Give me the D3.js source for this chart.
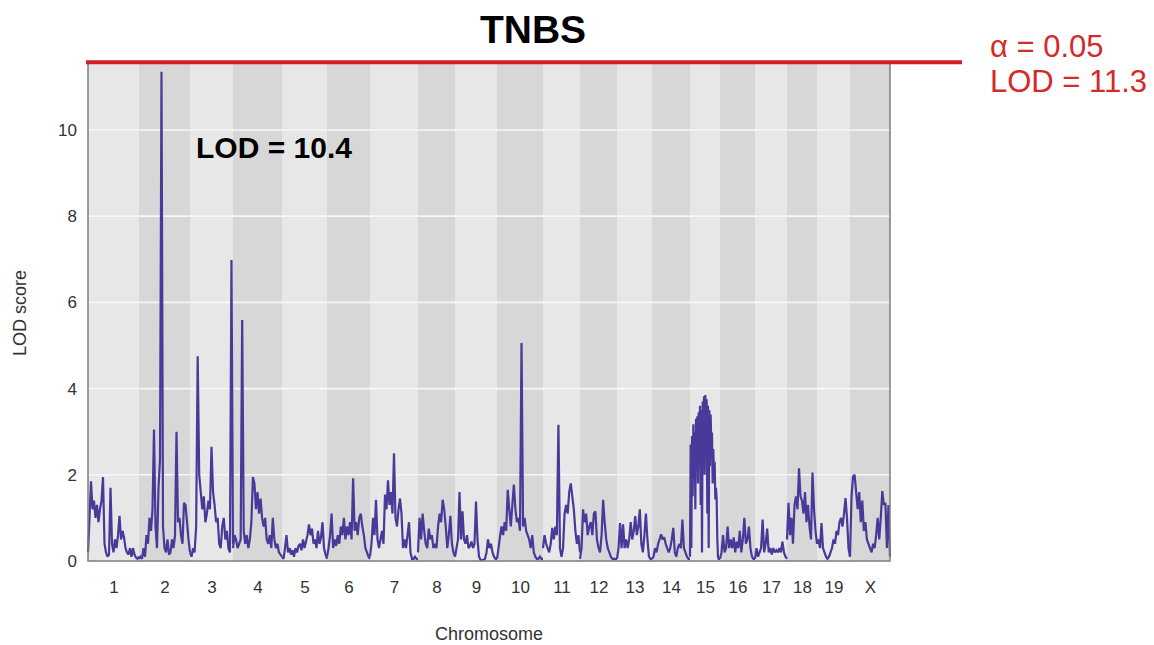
<!DOCTYPE html>
<html>
<head>
<meta charset="utf-8">
<script src="https://cdn.jsdelivr.net/npm/d3@7"></script>
<style>
  body { margin: 0; background: #fff; }
  svg text { font-family: Arial, "Liberation Sans", sans-serif; }
</style>
</head>
<body>
<div id="chart"></div>
<script>
// chromosome names and genetic lengths (cM)
let chromosomes = ["1","2","3","4","5","6","7","8","9","10","11","12","13","14","15","16","17","18","19","X"];
let chrLengths = [102,102,86,98,90,86,96,74,84,92,74,74,70,76,60,70,64,60,66,80];

// LOD profile, evenly spaced markers along each chromosome
let lod1 = [0.2,1.0,1.85,1.2,1.4,1.0,1.3,0.9,1.2,1.4,1.95,0.4,0.2,0.1,0.15,1.7,0.4,0.2,0.5,0.3,0.6,1.05,0.5,0.7,0.55,0.3,0.2,0.15,0.3,0.1,0.3,0.15,0.08,0.05,0.1];
let lod2 = [0.05,0.1,0.05,0.3,0.1,0.6,0.4,1.0,0.7,1.2,3.05,0.8,0.3,1.7,2.35,11.35,0.8,0.3,0.2,0.5,0.15,0.2,0.5,0.3,0.6,3.0,0.9,1.0,0.6,0.4,1.35,1.3,0.9,0.5,0.2];
let lod3 = [0.2,0.1,0.3,0.2,0.8,4.75,2.0,1.6,1.2,1.5,0.9,1.1,1.4,1.2,2.65,1.6,1.3,0.9,1.0,0.4,0.3,0.8,1.0,0.5,0.7,0.3,0.2,6.98,0.4];
let lod4 = [0.3,0.6,0.5,0.3,0.4,0.5,5.59,0.7,0.4,0.6,0.3,0.5,0.9,1.95,1.8,1.2,1.6,1.1,1.45,1.0,0.8,1.0,0.5,0.4,0.6,0.3,1.0,0.5,0.3,0.4,0.2,0.15,0.1];
let lod5 = [0.1,0.05,0.3,0.6,0.2,0.3,0.15,0.25,0.1,0.3,0.2,0.35,0.4,0.25,0.5,0.3,0.45,0.6,0.85,0.6,0.75,0.4,0.5,0.3,0.7,0.4,0.55,0.9,0.3,0.15,0.05];
let lod6 = [0.1,0.3,0.6,1.1,0.3,0.5,0.35,0.6,0.4,0.8,0.6,1.0,0.5,0.8,0.6,0.9,0.5,1.92,0.7,0.9,0.6,1.0,1.1,0.8,0.6,0.3,0.2,0.1,0.05];
let lod7 = [0.1,0.4,1.0,0.6,1.42,0.5,0.3,0.5,0.7,0.4,1.54,1.2,1.87,1.3,1.6,1.1,2.5,1.0,0.8,1.2,1.45,1.1,0.3,0.5,0.3,0.6,0.9,0.2,0.05,0.05,0.1,0.05,0.05];
let lod8 = [0.2,1.0,0.5,1.1,0.7,0.4,0.3,0.75,0.5,0.6,0.3,0.4,0.3,0.8,1.1,0.9,1.42,1.2,0.8,0.3,0.6,1.05,0.4,0.2,0.1];
let lod9 = [0.1,0.3,0.5,1.6,0.5,1.15,0.5,0.4,0.6,0.3,0.35,0.45,0.3,0.4,1.38,0.5,0.1,0.03,0.02,0.03,0.05,0.2,0.5,0.3,0.4,0.2,0.1,0.05,0.05];
let lod10 = [0.05,0.3,0.58,0.8,0.6,0.9,0.7,1.65,1.2,0.8,1.3,1.77,1.2,0.9,1.0,0.7,5.06,0.8,1.0,0.7,0.6,0.5,0.3,0.6,0.2,0.1,0.05,0.05,0.1,0.05,0.05];
let lod11 = [0.3,0.6,0.4,0.3,0.2,0.4,0.77,0.5,0.8,0.6,3.16,0.3,0.1,0.3,1.1,1.3,1.1,1.6,1.8,1.5,1.2,0.7,0.4,0.6,0.2];
let lod12 = [0.05,0.3,1.2,0.9,1.1,0.6,0.8,0.9,0.6,1.1,1.15,0.5,0.3,0.2,0.6,1.42,0.9,0.5,0.3,0.2,0.1,0.05,0.05,0.05,0.05];
let lod13 = [0.05,0.3,0.88,0.3,0.85,0.3,0.5,0.3,0.5,0.9,0.5,0.7,1.04,0.6,0.8,1.2,0.4,0.2,0.6,1.1,0.5,0.1,0.05,0.05];
let lod14 = [0.05,0.1,0.3,0.2,0.4,0.5,0.62,0.5,0.55,0.4,0.3,0.2,0.3,0.5,0.77,0.2,0.1,0.3,0.4,0.3,0.96,0.3,0.2,0.1,0.05,0.05];
let lod15 = [0.1,2.7,0.3,2.9,1.5,3.17,2.0,3.0,1.2,3.3,2.2,3.36,1.8,3.45,2.5,3.6,1.3,3.5,0.2,3.7,2.4,3.82,2.0,3.85,2.6,3.75,1.1,3.6,0.3,3.5,2.2,3.4,2.6,2.98,1.8,2.6,2.0,2.3,1.43,1.7,1.43,0.5,0.1,0.05,0.05,0.05];
let lod16 = [0.05,0.2,0.6,0.2,0.3,0.8,0.3,0.5,0.3,0.55,0.2,0.45,0.3,0.7,0.2,0.5,1.0,0.4,0.5,0.8,0.3,0.1,0.05,0.05];
let lod17 = [0.05,0.3,0.1,0.2,0.3,0.96,0.2,0.4,0.75,0.2,0.3,0.15,0.3,0.2,0.25,0.2,0.3,0.2,0.45,0.2,0.1,0.05];
let lod18 = [0.5,1.35,0.6,1.0,0.4,1.3,1.5,1.2,2.15,1.5,1.4,1.1,1.6,0.9,1.3,0.8,0.5,2.05,1.2,0.7,0.4];
let lod19 = [0.4,0.5,0.3,0.88,0.3,0.2,0.1,0.05,0.1,0.2,0.3,0.5,0.4,0.7,0.6,0.9,1.0,0.8,1.1,1.46,1.0,0.3,0.1];
let lodX = [0.1,1.5,1.96,2.0,1.6,1.2,1.6,0.9,1.4,0.7,0.9,0.5,0.4,0.3,0.2,0.4,0.3,0.6,1.0,0.5,1.0,1.62,1.3,1.35,0.3,1.3,0.1];

let lodByChr = [lod1,lod2,lod3,lod4,lod5,lod6,lod7,lod8,lod9,lod10,lod11,lod12,lod13,lod14,lod15,lod16,lod17,lod18,lod19,lodX];

let yTicks = [0,2,4,6,8,10];
let yTop = 11.53;          // upper end of the LOD axis
let thresholdShown = 11.57; // red significance line as drawn
let titleText = "TNBS";
let peakNote = "LOD = 10.4";
let thresholdNote = ["\u03b1 = 0.05", "LOD = 11.3"];

let W = 1154, H = 645;
let margin = {left: 88, right: 264, top: 64, bottom: 84};

let svg = d3.select("#chart").append("svg")
  .attr("width", W)
  .attr("height", H);

let total = d3.sum(chrLengths);
let starts = chrLengths.map(function(d, i){ return d3.sum(chrLengths.slice(0, i)); });

let x = d3.scaleLinear()
  .domain([0, total])
  .range([margin.left, W - margin.right]);

let y = d3.scaleLinear()
  .domain([0, yTop])
  .range([H - margin.bottom, margin.top]);

// alternating chromosome bands
svg.selectAll("rect.band")
  .data(chromosomes)
  .enter()
  .append("rect")
  .attr("class", "band")
  .attr("x", function(d, i){ return x(starts[i]); })
  .attr("y", y(yTop))
  .attr("width", function(d, i){ return x(starts[i] + chrLengths[i]) - x(starts[i]); })
  .attr("height", y(0) - y(yTop))
  .attr("fill", function(d, i){ return i % 2 == 0 ? "#e7e7e7" : "#d7d7d7"; });

// white grid lines
svg.append("g")
  .selectAll("line")
  .data(yTicks.slice(1))
  .enter()
  .append("line")
  .attr("x1", x(0))
  .attr("x2", x(total))
  .attr("y1", function(d){ return y(d); })
  .attr("y2", function(d){ return y(d); })
  .attr("stroke", "#f7f7f7")
  .attr("stroke-width", 1.6);

// LOD curve, one path per chromosome
let line = d3.line()
  .x(function(d){ return x(d[0]); })
  .y(function(d){ return y(d[1]); });

svg.append("g")
  .selectAll("path")
  .data(lodByChr)
  .enter()
  .append("path")
  .attr("d", function(vals, c){
    let pts = vals.map(function(v, i){
      return [starts[c] + i / (vals.length - 1) * chrLengths[c], v];
    });
    return line(pts);
  })
  .attr("fill", "none")
  .attr("stroke", "#473a98")
  .attr("stroke-width", 2.2)
  .attr("stroke-linejoin", "miter")
  .attr("stroke-miterlimit", 2);

// frame
svg.append("path")
  .attr("d", "M" + x(0) + "," + y(yTop) + "V" + y(0) + "H" + x(total) + "V" + y(yTop))
  .attr("fill", "none")
  .attr("stroke", "#7d7d7d")
  .attr("stroke-width", 1.5);

// axes
let yAxis = d3.axisLeft(y).tickValues(yTicks).tickSize(0).tickPadding(11);
svg.append("g")
  .attr("transform", "translate(" + x(0) + ",0)")
  .call(yAxis)
  .call(function(g){ g.select(".domain").remove(); })
  .selectAll("text")
  .attr("font-size", 17)
  .attr("fill", "#333");

let xAxis = d3.axisBottom(x)
  .tickValues(starts.map(function(s, i){ return s + chrLengths[i] / 2; }))
  .tickFormat(function(d, i){ return chromosomes[i]; })
  .tickSize(0)
  .tickPadding(20);
svg.append("g")
  .attr("transform", "translate(0," + y(0) + ")")
  .call(xAxis)
  .call(function(g){ g.select(".domain").remove(); })
  .selectAll("text")
  .attr("font-size", 17)
  .attr("fill", "#333");

svg.append("text")
  .attr("x", x(total / 2))
  .attr("y", 640)
  .attr("text-anchor", "middle")
  .attr("font-size", 18)
  .attr("fill", "#333")
  .text("Chromosome");

svg.append("text")
  .attr("transform", "translate(26," + 313 + ") rotate(-90)")
  .attr("text-anchor", "middle")
  .attr("font-size", 18)
  .attr("fill", "#333")
  .text("LOD score");

// significance threshold
svg.append("line")
  .attr("x1", x(0) - 2)
  .attr("x2", 962)
  .attr("y1", y(thresholdShown))
  .attr("y2", y(thresholdShown))
  .attr("stroke", "#d31f26")
  .attr("stroke-width", 4);

svg.selectAll("text.thr")
  .data(thresholdNote)
  .enter()
  .append("text")
  .attr("class", "thr")
  .attr("x", 990)
  .attr("y", function(d, i){ return 57 + i * 35; })
  .attr("font-size", 31)
  .attr("fill", "#d42a2a")
  .text(function(d){ return d; });

svg.append("text")
  .attr("x", 533)
  .attr("y", 43)
  .attr("text-anchor", "middle")
  .attr("font-size", 39)
  .attr("font-weight", "bold")
  .attr("fill", "#000")
  .text(titleText);

svg.append("text")
  .attr("x", 196)
  .attr("y", 158)
  .attr("font-size", 30)
  .attr("font-weight", "bold")
  .attr("fill", "#000")
  .text(peakNote);
</script>
</body>
</html>
